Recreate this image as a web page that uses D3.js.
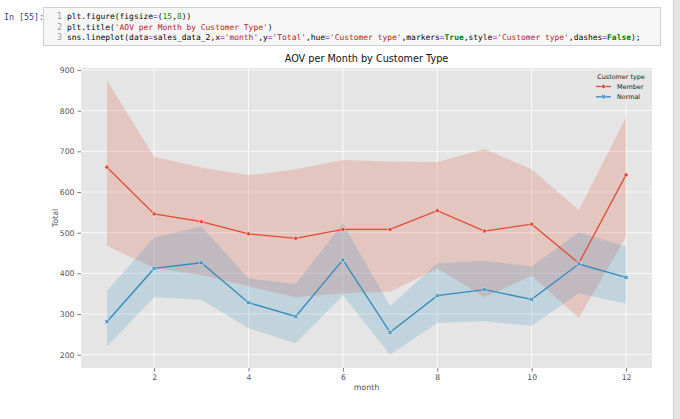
<!DOCTYPE html>
<html>
<head>
<meta charset="utf-8">
<script src="https://cdn.jsdelivr.net/npm/d3@7"></script>
<style>
  body { margin: 0; background: #fff; }
  svg { display: block; }
</style>
</head>
<body>
<script>
// values
const months = [1, 2, 3, 4, 5, 6, 7, 8, 9, 10, 11, 12];
const memberMean  = [661, 546, 527, 497, 486, 508, 508, 554, 504, 521, 425, 642];
const memberUpper = [875, 687, 660, 641, 656, 679, 675, 673, 706, 656, 556, 784];
const memberLower = [468, 413, 396, 368, 341, 351, 355, 412, 341, 394, 290, 490];
const normalMean  = [281, 412, 426, 328, 294, 433, 255, 345, 360, 336, 423, 390];
const normalUpper = [357, 488, 515, 388, 374, 523, 320, 425, 431, 417, 501, 466];
const normalLower = [220, 341, 335, 265, 228, 346, 200, 278, 282, 271, 351, 325];
const xTicks = [2, 4, 6, 8, 10, 12];
const yTicks = [200, 300, 400, 500, 600, 700, 800, 900];
const codeLines = [
  "plt.figure(figsize=(15,8))",
  "plt.title('AOV per Month by Customer Type')",
  "sns.lineplot(data=sales_data_2,x='month',y='Total',hue='Customer type',markers=True,style='Customer type',dashes=False);"
];

const series = [
  {name: "Member", color: "#E24A33", mean: memberMean, lo: memberLower, hi: memberUpper, marker: "circle"},
  {name: "Normal", color: "#348ABD", mean: normalMean, lo: normalLower, hi: normalUpper, marker: "x"}
];

const W = 680, H = 419;
const svg = d3.select("body").append("svg").attr("width", W).attr("height", H);

// --- notebook chrome ---
svg.append("rect").attr("x", 673).attr("y", 0).attr("width", 7).attr("height", H).attr("fill", "#e6e6e6");
svg.append("line").attr("x1", 673.5).attr("x2", 673.5).attr("y1", 0).attr("y2", H).attr("stroke", "#cfcfcf");

svg.append("text").attr("x", 4).attr("y", 19.5)
  .attr("font-family", "DejaVu Sans Mono").attr("font-size", 8.3).attr("fill", "#303F9F")
  .text("In [55]:");

svg.append("rect").attr("x", 43.5).attr("y", 7.5).attr("width", 617).attr("height", 38)
  .attr("fill", "#f7f7f7").attr("stroke", "#cfcfcf");

// split a code line into coloured pieces
function tokens(line) {
  const out = [];
  const re = /'[^']*'|\b\d+\b|=|\bTrue\b|\bFalse\b/g;
  let last = 0, m;
  while ((m = re.exec(line)) !== null) {
    if (m.index > last) out.push({s: line.slice(last, m.index), c: "#000"});
    const s = m[0];
    let c = "#000", bold = false;
    if (s[0] === "'") c = "#BA2121";
    else if (s === "=") c = "#AA22FF";
    else if (s === "True" || s === "False") { c = "#008000"; bold = true; }
    else c = "#008800";
    out.push({s, c, bold});
    last = m.index + s.length;
  }
  if (last < line.length) out.push({s: line.slice(last), c: "#000"});
  return out;
}

const codeTexts = codeLines.map((line, i) => {
  const yy = 19 + i * 10.5;
  svg.append("text").attr("x", 57).attr("y", yy)
    .attr("font-family", "DejaVu Sans Mono").attr("font-size", 8.3).attr("fill", "#999")
    .text(i + 1);
  const t = svg.append("text").attr("x", 67).attr("y", yy)
    .attr("font-family", "DejaVu Sans Mono").attr("font-size", 8.5)
    .attr("xml:space", "preserve");
  tokens(line).forEach(tk => {
    t.append("tspan").text(tk.s).attr("fill", tk.c).attr("font-weight", tk.bold ? "bold" : null);
  });
  return t;
});
// the long line ends near x=641 in the screenshot; fit font size to that
const longW = codeTexts[2].node().getComputedTextLength();
const codeSize = 8.5 * 574 / longW;
codeTexts.forEach(t => t.attr("font-size", codeSize));

// --- chart ---
const mLeft = 81, mRight = 652, mTop = 68, mBottom = 368;
const x = d3.scaleLinear().domain([0.45, 12.55]).range([mLeft, mRight]);
const y = d3.scaleLinear().domain([167.3, 904.9]).range([mBottom, mTop]);

svg.append("rect").attr("x", mLeft).attr("y", mTop).attr("width", mRight - mLeft).attr("height", mBottom - mTop)
  .attr("fill", "#E5E5E5");

const grid = svg.append("g");
grid.selectAll(".gx").data(xTicks).join("line")
  .attr("x1", d => x(d)).attr("x2", d => x(d)).attr("y1", mTop).attr("y2", mBottom)
  .attr("stroke", "#fff").attr("stroke-width", 0.8);
grid.selectAll(".gy").data(yTicks).join("line")
  .attr("y1", d => y(d)).attr("y2", d => y(d)).attr("x1", mLeft).attr("x2", mRight)
  .attr("stroke", "#fff").attr("stroke-width", 0.8);

const xAxis = svg.append("g").attr("transform", `translate(0,${mBottom})`)
  .call(d3.axisBottom(x).tickValues(xTicks).tickSize(3.5).tickPadding(3).tickFormat(d3.format("d")));
const yAxis = svg.append("g").attr("transform", `translate(${mLeft},0)`)
  .call(d3.axisLeft(y).tickValues(yTicks).tickSize(3.5).tickPadding(3).tickFormat(d3.format("d")));
[xAxis, yAxis].forEach(a => {
  a.select(".domain").remove();
  a.selectAll(".tick line").attr("stroke", "#555").attr("stroke-width", 0.8);
  a.selectAll(".tick text").attr("fill", "#555").attr("font-family", "DejaVu Sans").attr("font-size", 7.7);
});

const area = d3.area().x((d, i) => x(months[i])).y0(d => y(d[0])).y1(d => y(d[1]));
const line = d3.line().x((d, i) => x(months[i])).y(d => y(d));

series.forEach(s => {
  svg.append("path").datum(s.lo.map((v, i) => [v, s.hi[i]]))
    .attr("d", area).attr("fill", s.color).attr("fill-opacity", 0.2);
});
const xSym = d3.symbol().type(d3.symbolCross).size(13);
const cSym = d3.symbol().type(d3.symbolCircle).size(14);
series.forEach(s => {
  svg.append("path").datum(s.mean).attr("d", line)
    .attr("fill", "none").attr("stroke", s.color).attr("stroke-width", 1.3);
  svg.append("g").selectAll("path").data(s.mean).join("path")
    .attr("transform", (d, i) => `translate(${x(months[i])},${y(d)})` + (s.marker === "x" ? " rotate(45)" : ""))
    .attr("d", s.marker === "x" ? xSym() : cSym())
    .attr("fill", s.color).attr("stroke", "#fff").attr("stroke-width", 0.5);
});

// title and labels
svg.append("text").attr("x", (mLeft + mRight) / 2).attr("y", 62).attr("text-anchor", "middle")
  .attr("font-family", "DejaVu Sans").attr("font-size", 9.7).attr("fill", "#111")
  .text("AOV per Month by Customer Type");
svg.append("text").attr("x", (mLeft + mRight) / 2).attr("y", 390).attr("text-anchor", "middle")
  .attr("font-family", "DejaVu Sans").attr("font-size", 7.9).attr("fill", "#555")
  .text("month");
svg.append("text").attr("transform", `translate(58,${(mTop + mBottom) / 2}) rotate(-90)`).attr("text-anchor", "middle")
  .attr("font-family", "DejaVu Sans").attr("font-size", 7.9).attr("fill", "#555")
  .text("Total");

// legend
const lg = svg.append("g").attr("transform", "translate(593,70)");
lg.append("rect").attr("width", 56).attr("height", 34).attr("rx", 2)
  .attr("fill", "#E5E5E5").attr("fill-opacity", 0.8);
lg.append("text").attr("x", 28).attr("y", 8.5).attr("text-anchor", "middle")
  .attr("font-family", "DejaVu Sans").attr("font-size", 6.4).attr("fill", "#222")
  .text("Customer type");
series.forEach((s, i) => {
  const yy = 16.5 + i * 10.3;
  lg.append("line").attr("x1", 3).attr("x2", 18).attr("y1", yy).attr("y2", yy)
    .attr("stroke", s.color).attr("stroke-width", 1.3);
  lg.append("path").attr("transform", `translate(10.5,${yy})` + (s.marker === "x" ? " rotate(45)" : ""))
    .attr("d", s.marker === "x" ? xSym() : cSym())
    .attr("fill", s.color).attr("stroke", "#fff").attr("stroke-width", 0.5);
  lg.append("text").attr("x", 24).attr("y", yy + 2.3)
    .attr("font-family", "DejaVu Sans").attr("font-size", 6.4).attr("fill", "#222")
    .text(s.name);
});
</script>
</body>
</html>
